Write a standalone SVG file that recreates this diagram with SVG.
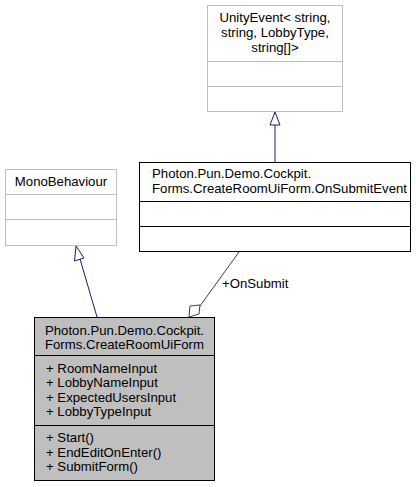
<svg xmlns="http://www.w3.org/2000/svg" width="416" height="487" viewBox="0 0 416 487">
<style>
text{font-family:"Liberation Sans",Arial,sans-serif;font-size:13.2px;fill:#000}
.c{text-anchor:middle}
.lg{fill:#fff;stroke:#bfbfbf;stroke-width:1}
.bk{fill:#fff;stroke:#000;stroke-width:1}
.gr{fill:#bfbfbf;stroke:#000;stroke-width:1}
.inh{fill:none;stroke:#191970;stroke-width:1}
.cmp{fill:none;stroke:#404040;stroke-width:1}
</style>
<g id="node-unityevent">
<rect class="lg" x="207.5" y="5.5" width="135" height="106"/>
<line class="lg" x1="207.5" y1="61.5" x2="342.5" y2="61.5"/>
<line class="lg" x1="207.5" y1="86.5" x2="342.5" y2="86.5"/>
<text class="c" x="275" y="22">UnityEvent&lt; string,</text>
<text class="c" x="275" y="37">string, LobbyType,</text>
<text class="c" x="275" y="52">string[]&gt;</text>
</g>
<g id="node-onsubmitevent">
<rect class="bk" x="139.5" y="162.5" width="271" height="89"/>
<line class="bk" x1="139.5" y1="201.5" x2="410.5" y2="201.5"/>
<line class="bk" x1="139.5" y1="226.5" x2="410.5" y2="226.5"/>
<text x="152" y="178">Photon.Pun.Demo.Cockpit.</text>
<text x="152" y="192.5">Forms.CreateRoomUiForm.OnSubmitEvent</text>
</g>
<g id="node-monobehaviour">
<rect class="lg" x="5.5" y="169.5" width="111" height="76"/>
<line class="lg" x1="5.5" y1="194.5" x2="116.5" y2="194.5"/>
<line class="lg" x1="5.5" y1="219.5" x2="116.5" y2="219.5"/>
<text class="c" x="61" y="186">MonoBehaviour</text>
</g>
<g id="node-createroomuiform">
<rect class="gr" x="34.5" y="317.5" width="180" height="163"/>
<line class="gr" x1="34.5" y1="355.5" x2="214.5" y2="355.5"/>
<line class="gr" x1="34.5" y1="425.5" x2="214.5" y2="425.5"/>
<text class="c" x="124.5" y="335">Photon.Pun.Demo.Cockpit.</text>
<text class="c" x="124.5" y="349">Forms.CreateRoomUiForm</text>
<text x="46" y="373">+ RoomNameInput</text>
<text x="46" y="387">+ LobbyNameInput</text>
<text x="46" y="402">+ ExpectedUsersInput</text>
<text x="46" y="416">+ LobbyTypeInput</text>
<text x="46" y="442">+ Start()</text>
<text x="46" y="457">+ EndEditOnEnter()</text>
<text x="46" y="471">+ SubmitForm()</text>
</g>
<g id="connectors">
<line class="inh" x1="275" y1="162" x2="275" y2="125"/>
<polygon class="inh" points="275,112 270,125 280,125"/>
<line class="inh" x1="97" y1="317" x2="80" y2="259"/>
<polygon class="inh" points="76,246 74.5,261 84,258"/>
<line class="cmp" x1="239" y1="252" x2="200" y2="306"/>
<polygon class="cmp" points="189,317 190,306 200,305 199,314"/>
<text x="222" y="288">+OnSubmit</text>
</g>
</svg>
